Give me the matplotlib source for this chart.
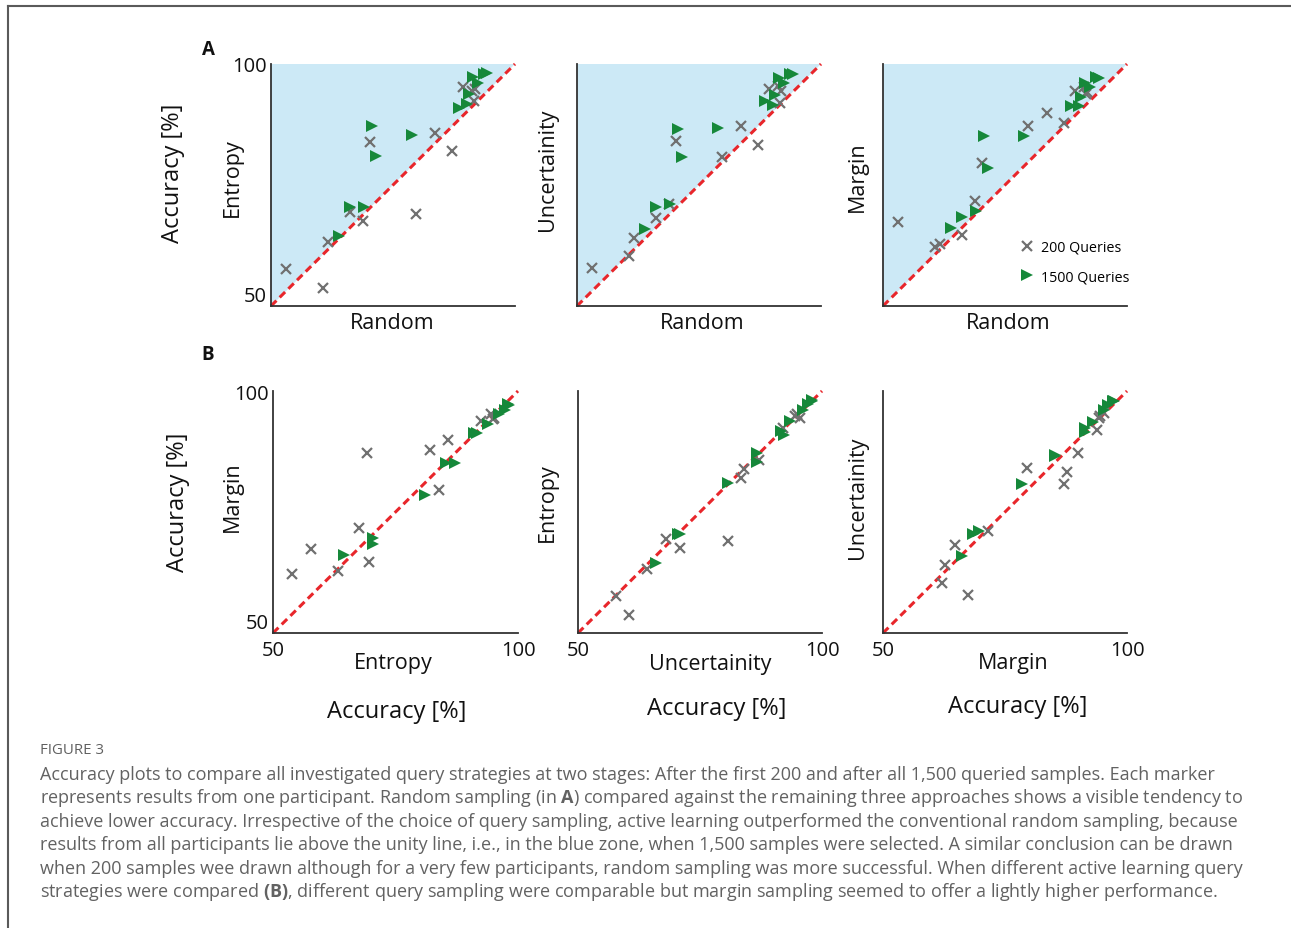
import matplotlib
matplotlib.use("Agg")
from matplotlib import pyplot as plt
from matplotlib.lines import Line2D

# accuracy [%] per participant, after 200 and after 1500 queries
random_200 = [53.1, 60.6, 61.6, 66.1, 68.8, 70.2, 79.7, 83.6, 87.0, 89.4, 91.1, 91.8, 91.5]
entropy_200 = [57.7, 53.8, 63.2, 69.5, 67.6, 83.9, 69.1, 85.7, 82.1, 95.2, 94.5, 94.9, 92.4]
uncert_200 = [57.8, 60.4, 64.1, 68.1, 71.0, 84.0, 80.7, 87.1, 83.3, 94.9, 95.5, 94.5, 92.0]
margin_200 = [67.4, 62.1, 62.8, 64.7, 71.6, 79.5, 87.1, 89.9, 87.8, 94.5, 95.2, 94.2, 93.8]

random_1500 = [64.0, 66.1, 69.0, 70.7, 71.5, 78.8, 88.5, 90.2, 90.6, 92.5, 91.3, 93.6, 94.3]
entropy_1500 = [64.5, 70.5, 70.5, 87.1, 81.0, 85.4, 91.0, 91.7, 93.8, 96.1, 97.3, 98.0, 98.1]
uncert_1500 = [65.9, 70.4, 71.0, 86.6, 80.7, 86.7, 92.3, 91.6, 93.5, 96.1, 97.1, 98.0, 98.0]
margin_1500 = [66.2, 68.4, 69.7, 85.2, 78.5, 85.2, 91.4, 91.3, 93.1, 95.2, 96.1, 97.3, 97.1]

lims = [50, 100]

caption = [
    "Accuracy plots to compare all investigated query strategies at two stages: After the first 200 and after all 1,500 queried samples. Each marker",
    r"represents results from one participant. Random sampling (in $\mathbf{A}$) compared against the remaining three approaches shows a visible tendency to",
    "achieve lower accuracy. Irrespective of the choice of query sampling, active learning outperformed the conventional random sampling, because",
    "results from all participants lie above the unity line, i.e., in the blue zone, when 1,500 samples were selected. A similar conclusion can be drawn",
    "when 200 samples wee drawn although for a very few participants, random sampling was more successful. When different active learning query",
    r"strategies were compared $\mathbf{(B)}$, different query sampling were comparable but margin sampling seemed to offer a lightly higher performance.",
]

plt.rcParams["font.family"] = ["Open Sans", "DejaVu Sans"]
plt.rcParams["mathtext.fontset"] = "custom"
plt.rcParams["mathtext.rm"] = "Open Sans"
plt.rcParams["mathtext.bf"] = "Open Sans:bold"

W, H = 1291, 929
fig = plt.figure(figsize=(W / 100, H / 100), dpi=100)

BLUE = "#cce9f6"
GREEN = "#16883a"
GRAY = "#707070"
RED = "#e8262b"


def px_axes(left, top, right, bottom):
    return fig.add_axes([left / W, 1 - bottom / H, (right - left) / W, (bottom - top) / H])


def ftext(x, y, s, **kw):
    fig.text(x / W, 1 - y / H, s, ha="center", va="center", **kw)


def setup(ax, shade, xt, yt):
    ax.set_xlim(lims)
    ax.set_ylim(lims)
    for side in ["top", "right"]:
        ax.spines[side].set_visible(False)
    for side in ["left", "bottom"]:
        ax.spines[side].set_color("#333333")
        ax.spines[side].set_linewidth(1.3)
    if shade:
        ax.fill([lims[0], lims[0], lims[1]], [lims[0], lims[1], lims[1]], color=BLUE, lw=0, zorder=0)
    ax.plot(lims, lims, color=RED, ls=(0, (2.5, 1.5)), lw=2.2, zorder=1, clip_on=False)
    ax.set_xticks(lims if xt else [])
    ax.set_yticks(lims if yt else [])
    ax.tick_params(length=0, labelsize=14.5, colors="#111111")
    ax.tick_params(axis="y", pad=3)
    ax.tick_params(axis="x", pad=5)
    if yt:
        ax.yaxis.get_major_ticks()[0].label1.set_va("bottom")


def scatter(ax, x200, y200, x1500, y1500):
    ax.plot(x200, y200, ls="none", marker="x", ms=7, mew=1.6, color=GRAY, zorder=3, clip_on=False)
    ax.plot(x1500, y1500, ls="none", marker=">", ms=8, mew=0, color=GREEN, zorder=4, clip_on=False)


# row A: random against each active learning strategy
boxes_a = [(271, 65, 515, 307), (577, 65, 821, 307), (883, 65, 1127, 307)]
ys_a = [(entropy_200, entropy_1500), (uncert_200, uncert_1500), (margin_200, margin_1500)]
for i, (box, (y2, y15)) in enumerate(zip(boxes_a, ys_a)):
    ax = px_axes(*box)
    setup(ax, True, False, i == 0)
    scatter(ax, random_200, y2, random_1500, y15)

# row B: strategies against each other
boxes_b = [(273, 392, 518, 634), (578, 392, 822, 634), (883, 392, 1127, 634)]
pairs_b = [
    (entropy_200, margin_200, entropy_1500, margin_1500),
    (uncert_200, entropy_200, uncert_1500, entropy_1500),
    (margin_200, uncert_200, margin_1500, uncert_1500),
]
for i, (box, p) in enumerate(zip(boxes_b, pairs_b)):
    ax = px_axes(*box)
    setup(ax, False, True, i == 0)
    scatter(ax, *p)

# legend in the last panel of row A
handles = [
    Line2D([], [], ls="none", marker="x", ms=7, mew=1.6, color=GRAY),
    Line2D([], [], ls="none", marker=">", ms=8, mew=0, color=GREEN),
]
fig.legend(handles, ["200 Queries", "1500 Queries"], loc="upper left",
           bbox_to_anchor=(1020 / W, 1 - 241 / H), frameon=False, fontsize=10.3,
           handlelength=1.0, handletextpad=0.5, labelspacing=1.0, borderpad=0,
           borderaxespad=0)

lab = dict(fontsize=15.5, color="#111111")
ftext(232, 178, "Entropy", rotation=90, **lab)
ftext(548, 170, "Uncertainity", rotation=90, **lab)
ftext(857, 177, "Margin", rotation=90, **lab)
ftext(232, 497, "Margin", rotation=90, **lab)
ftext(547, 503, "Entropy", rotation=90, **lab)
ftext(858, 498, "Uncertainity", rotation=90, **lab)
for x in [392, 702, 1008]:
    ftext(x, 324, "Random", **lab)
ftext(393, 664, "Entropy", **lab)
ftext(710, 665, "Uncertainity", **lab)
ftext(1013, 664, "Margin", **lab)

acc = dict(fontsize=17, color="#111111")
ftext(173, 173, "Accuracy [%]", rotation=90, **acc)
ftext(178, 502, "Accuracy [%]", rotation=90, **acc)
ftext(397, 712, "Accuracy [%]", **acc)
ftext(717, 709, "Accuracy [%]", **acc)
ftext(1018, 707, "Accuracy [%]", **acc)

ftext(208, 50, "A", fontsize=13.5, fontweight="bold", color="#111111")
ftext(208, 355, "B", fontsize=13.5, fontweight="bold", color="#111111")

# caption
fig.text(40 / W, 1 - 751 / H, "FIGURE 3", fontsize=10.8, color="#606060", va="center")
for k, line in enumerate(caption):
    fig.text(40 / W, 1 - (775 + k * 23.4) / H, line, fontsize=13.0, color="#626262", va="center")

# frame lines at top and left edge
fig.add_artist(Line2D([8 / W, 1], [1 - 7 / H, 1 - 7 / H], color="#5a5a5a", lw=1.5))
fig.add_artist(Line2D([8 / W, 8 / W], [0, 1 - 7 / H], color="#5a5a5a", lw=1.5))

fig.savefig("out.png", dpi=100)
